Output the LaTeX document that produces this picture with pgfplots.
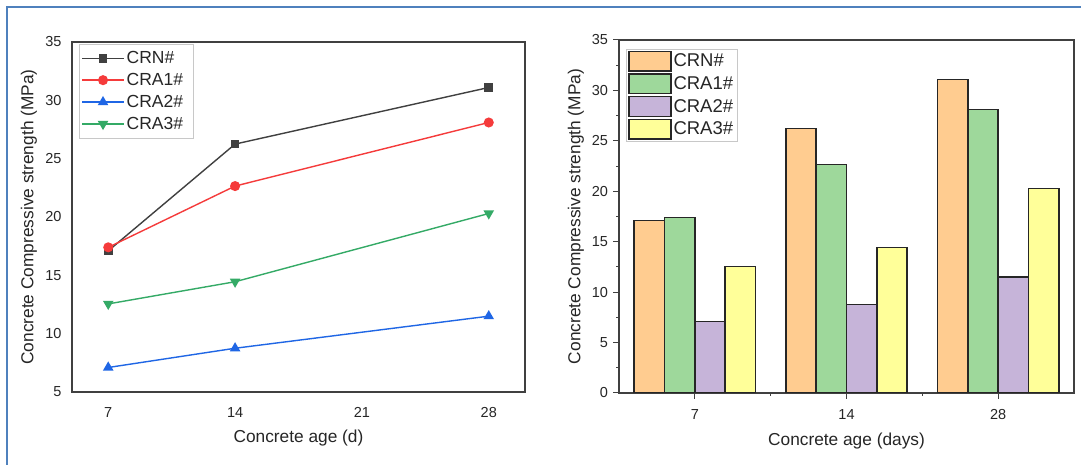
\documentclass[border=0pt]{standalone}
\usepackage{pgfplots}
\pgfplotsset{compat=1.18}
\usepackage{fontspec}
\setmainfont{Liberation Sans}
\definecolor{frameblue}{HTML}{4F81BD}
\definecolor{axgray}{HTML}{404040}
\definecolor{lgray}{HTML}{C8C8C8}
\definecolor{cCRN}{HTML}{404040}
\definecolor{cCRA1}{HTML}{F53B3B}
\definecolor{cCRA2}{HTML}{1F66E5}
\definecolor{cCRA3}{HTML}{34AA66}
\definecolor{bCRN}{HTML}{FFCC90}
\definecolor{bCRA1}{HTML}{9ED89B}
\definecolor{bCRA2}{HTML}{C6B4D9}
\definecolor{bCRA3}{HTML}{FFFF99}
\begin{document}
\begin{tikzpicture}[x=1pt,y=1pt]
\path[use as bounding box] (0,0) rectangle (1081,465);
\fill[white] (0,0) rectangle (1081,465);
\draw[frameblue, line width=2pt] (7,-5) -- (7,458) -- (1090,458);
% left chart
\begin{axis}[
  at={(72pt,73pt)}, anchor=south west,
  scale only axis, width=453pt, height=350pt,
  xmin=5, xmax=30, ymin=5, ymax=35,
  xtick={7,14,21,28}, ytick={5,10,15,20,25,30,35},
  major tick length=0pt, minor tick length=0pt,
  axis line style={axgray, line width=1.3pt},
  /pgf/number format/assume math mode=true,
  tick label style={font=\fontsize{14.5}{17}\selectfont, text=black!85},
  yticklabel style={xshift=-7pt},
  xticklabel style={yshift=-12pt},
  label style={font=\fontsize{17.3}{20}\selectfont, text=black!85},
  xlabel={Concrete age (d)},
  ylabel={Concrete Compressive strength (MPa)},
  xlabel style={at={(axis description cs:0.5,-0.131)}, anchor=center},
  ylabel style={at={(axis description cs:-0.095,0.5)}, anchor=center, rotate=0},
  legend style={at={(0.0155,0.994)}, anchor=north west, draw=lgray, line width=0.6pt,
    font=\fontsize{17.5}{20}\selectfont, text=black!85, inner xsep=2pt, inner ysep=5pt,
    row sep=4.2pt},
  legend cell align=left,
  legend image code/.code={\draw[mark repeat=2,mark phase=2,#1] plot coordinates {(0pt,0pt) (21pt,0pt) (42pt,0pt)};},
  every axis plot/.append style={line width=1.4pt},
]
\addplot[cCRN, mark=square*, mark size=3.7pt, mark options={fill=cCRN}] coordinates {(7,17.1) (14,26.25) (28,31.1)};
\addlegendentry{CRN\#}
\addplot[cCRA1, mark=*, mark size=4.3pt, mark options={fill=cCRA1}] coordinates {(7,17.4) (14,22.65) (28,28.1)};
\addlegendentry{CRA1\#\hspace*{6pt}}
\addplot[cCRA2, mark=triangle*, mark size=4.7pt, mark options={fill=cCRA2}] coordinates {(7,7.1) (14,8.75) (28,11.5)};
\addlegendentry{CRA2\#\hspace*{6pt}}
\addplot[cCRA3, mark=triangle*, mark size=4.7pt, mark options={fill=cCRA3, rotate=180}] coordinates {(7,12.55) (14,14.45) (28,20.3)};
\addlegendentry{CRA3\#\hspace*{6pt}}
\end{axis}
% right chart
\begin{axis}[
  at={(619pt,72pt)}, anchor=south west,
  scale only axis, width=455pt, height=353pt,
  xmin=-0.5, xmax=2.5, ymin=0, ymax=35,
  xtick={0,1,2}, xticklabels={7,14,28},
  minor xtick={0.5,1.5},
  ytick={0,5,10,15,20,25,30,35}, minor y tick num=1,
  tick align=outside, xtick pos=bottom, ytick pos=left,
  major tick length=6pt, minor tick length=3pt,
  tick style={axgray, line width=1pt},
  axis line style={axgray, line width=1.1pt},
  /pgf/number format/assume math mode=true,
  tick label style={font=\fontsize{14.5}{17}\selectfont, text=black!85},
  yticklabel style={xshift=-1.5pt},
  xticklabel style={yshift=-7pt},
  label style={font=\fontsize{17.3}{20}\selectfont, text=black!85},
  xlabel={Concrete age (days)},
  ylabel={Concrete Compressive strength (MPa)},
  xlabel style={at={(axis description cs:0.5,-0.135)}, anchor=center},
  ylabel style={at={(axis description cs:-0.0945,0.5)}, anchor=center, rotate=0},
  ybar, bar width=0.2,
  legend style={at={(0.015,0.975)}, anchor=north west, draw=lgray, line width=0.6pt,
    font=\fontsize{18.5}{21}\selectfont, text=black!85, inner xsep=2pt, inner ysep=1.5pt,
    row sep=1.7pt},
  legend cell align=left,
  legend image code/.code={\draw[#1, draw=black!85, line width=1.4pt] (0pt,-9.8pt) rectangle (42pt,9.8pt);},
]
\addplot[fill=bCRN, draw=black!85, line width=1.4pt, bar shift=-0.3] coordinates {(0,17.1) (1,26.25) (2,31.1)};
\addlegendentry{CRN\#}
\addplot[fill=bCRA1, draw=black!85, line width=1.4pt, bar shift=-0.1] coordinates {(0,17.4) (1,22.65) (2,28.1)};
\addlegendentry{CRA1\#}
\addplot[fill=bCRA2, draw=black!85, line width=1.4pt, bar shift=0.1] coordinates {(0,7.1) (1,8.75) (2,11.5)};
\addlegendentry{CRA2\#}
\addplot[fill=bCRA3, draw=black!85, line width=1.4pt, bar shift=0.3] coordinates {(0,12.55) (1,14.45) (2,20.3)};
\addlegendentry{CRA3\#}
\end{axis}
\end{tikzpicture}
\end{document}
